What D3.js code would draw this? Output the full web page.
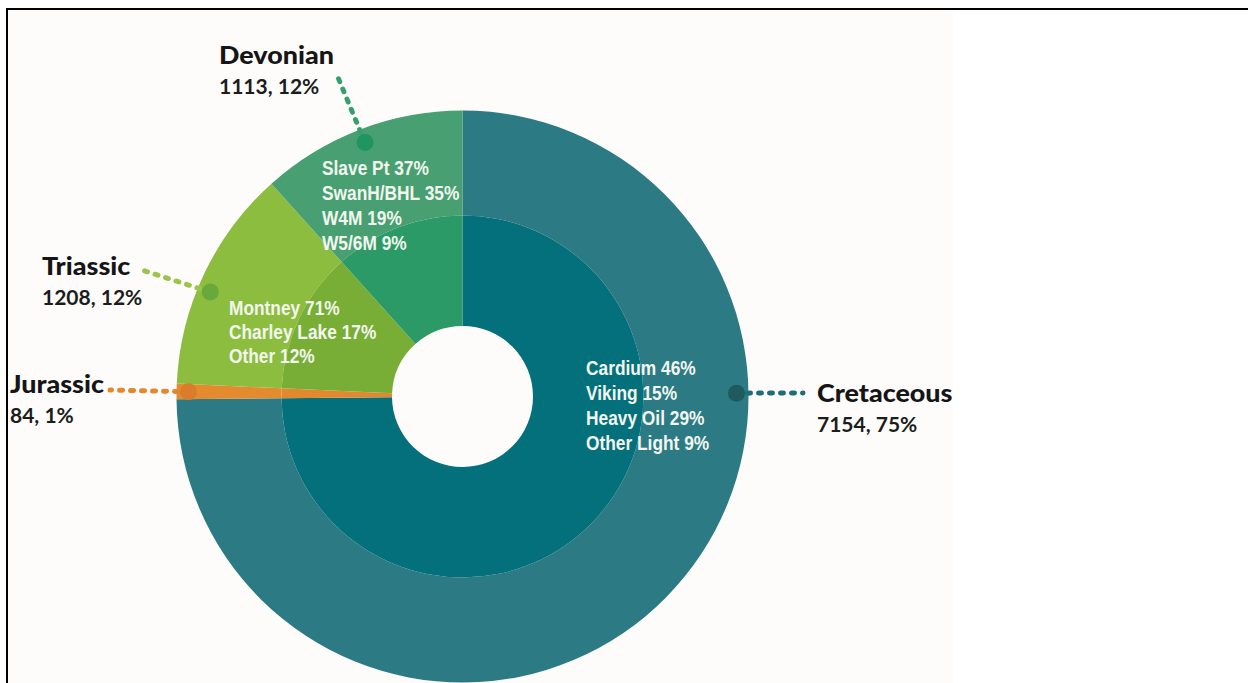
<!DOCTYPE html>
<html>
<head>
<meta charset="utf-8">
<script src="https://cdn.jsdelivr.net/npm/d3@7"></script>
<style>
  html, body { margin: 0; padding: 0; background: #ffffff; }
  svg { display: block; }
</style>
</head>
<body>
<svg id="chart" width="1248" height="683"></svg>
<script>
// Wells by geological period (outer ring and callouts)
const periods = ["Cretaceous", "Jurassic", "Triassic", "Devonian"];
const wellCounts = [7154, 84, 1208, 1113];
const shareLabels = ["75%", "1%", "12%", "12%"];

// Play breakdown printed inside each period's slice
const cretaceousPlays = ["Cardium", "Viking", "Heavy Oil", "Other Light"];
const cretaceousShares = [46, 15, 29, 9];
const triassicPlays = ["Montney", "Charley Lake", "Other"];
const triassicShares = [71, 17, 12];
const devonianPlays = ["Slave Pt", "SwanH/BHL", "W4M", "W5/6M"];
const devonianShares = [37, 35, 19, 9];
const jurassicPlays = [];
const jurassicShares = [];

// Styling per period
const outerColors = ["#2b7a84", "#e48b2f", "#8dbd3e", "#48a072"];
const innerColors = ["#03707b", "#e2892f", "#78ae35", "#2b9a66"];
const dotColors   = ["#1f5a5e", "#d97d2c", "#69a83a", "#1f955f"];
const leaderColors = ["#1e6e77", "#e2882f", "#9cc44a", "#36a06d"];

const svg = d3.select("#chart");
const W = 1248, H = 683;
const cx = 462.5, cy = 396.5;
const rHole = 70.5, rInner = 181, rOuter = 286;

// frame and panel background
svg.append("rect").attr("x", 8).attr("y", 10).attr("width", 945).attr("height", H - 10)
  .attr("fill", "#fdfcfa");
svg.append("line").attr("x1", 6).attr("x2", W).attr("y1", 9).attr("y2", 9)
  .attr("stroke", "#000").attr("stroke-width", 2);
svg.append("line").attr("x1", 7).attr("x2", 7).attr("y1", 8).attr("y2", H)
  .attr("stroke", "#000").attr("stroke-width", 2);

const data = periods.map((p, i) => ({ period: p, value: wellCounts[i], i }));
const pie = d3.pie().sort(null).value(d => d.value).startAngle(0).endAngle(2 * Math.PI);
const arcsData = pie(data);

const g = svg.append("g").attr("transform", `translate(${cx},${cy})`);
const outerArc = d3.arc().innerRadius(rInner).outerRadius(rOuter);
const innerArc = d3.arc().innerRadius(rHole).outerRadius(rInner);

g.selectAll("path.outer").data(arcsData).join("path")
  .attr("class", "outer")
  .attr("d", outerArc)
  .attr("fill", d => outerColors[d.data.i]);
g.selectAll("path.inner").data(arcsData).join("path")
  .attr("class", "inner")
  .attr("d", innerArc)
  .attr("fill", d => innerColors[d.data.i]);

// condensed text: regular face squeezed horizontally
function label(parent, x, y, sx, str) {
  return parent.append("text")
    .attr("transform", `translate(${x},${y}) scale(${sx},1)`)
    .text(str);
}

// play breakdown text blocks
const playBlocks = [
  { names: cretaceousPlays, shares: cretaceousShares, x: 586, y: 375, step: 25 },
  { names: jurassicPlays, shares: jurassicShares, x: 0, y: 0, step: 0 },
  { names: triassicPlays, shares: triassicShares, x: 229, y: 315, step: 24 },
  { names: devonianPlays, shares: devonianShares, x: 322, y: 175, step: 25 }
];
playBlocks.forEach(b => {
  const tg = svg.append("g")
    .attr("font-family", "'Liberation Sans', Arial, sans-serif")
    .attr("font-weight", 700)
    .attr("font-size", 21)
    .attr("fill", "#f2f6ef");
  b.names.forEach((n, k) => label(tg, b.x, b.y + k * b.step, 0.825, `${n} ${b.shares[k]}%`));
});

// callouts: dot on the ring, dotted leader, period label
const callouts = [
  { angle: 89.3, r: 274, end: [803, 393], tx: 817, ty: 402 },
  { angle: 271,  r: 274, end: [110, 390], tx: 10,  ty: 393 },
  { angle: 292.5, r: 273, end: [142, 270], tx: 42, ty: 275 },
  { angle: 339,  r: 272, end: [337, 75],  tx: 219, ty: 64 }
];
callouts.forEach((c, i) => {
  const a = c.angle * Math.PI / 180;
  const px = cx + c.r * Math.sin(a), py = cy - c.r * Math.cos(a);
  svg.append("line")
    .attr("x1", px).attr("y1", py).attr("x2", c.end[0]).attr("y2", c.end[1])
    .attr("stroke", leaderColors[i]).attr("stroke-width", 5)
    .attr("stroke-linecap", "round").attr("stroke-dasharray", "3,8");
  svg.append("circle").attr("cx", px).attr("cy", py).attr("r", 8.5)
    .attr("fill", dotColors[i]);
  const title = svg.append("g").attr("font-family", "Lato, sans-serif")
    .attr("font-weight", 900).attr("font-size", 24).attr("fill", "#151515");
  label(title, c.tx, c.ty, 1.12, periods[i]);
  const sub = svg.append("g").attr("font-family", "Lato, sans-serif")
    .attr("font-weight", 700).attr("font-size", 21).attr("fill", "#1c1c1c");
  label(sub, c.tx, c.ty + 30, 1.0, `${d3.format("d")(wellCounts[i])}, ${shareLabels[i]}`);
});
</script>
</body>
</html>
